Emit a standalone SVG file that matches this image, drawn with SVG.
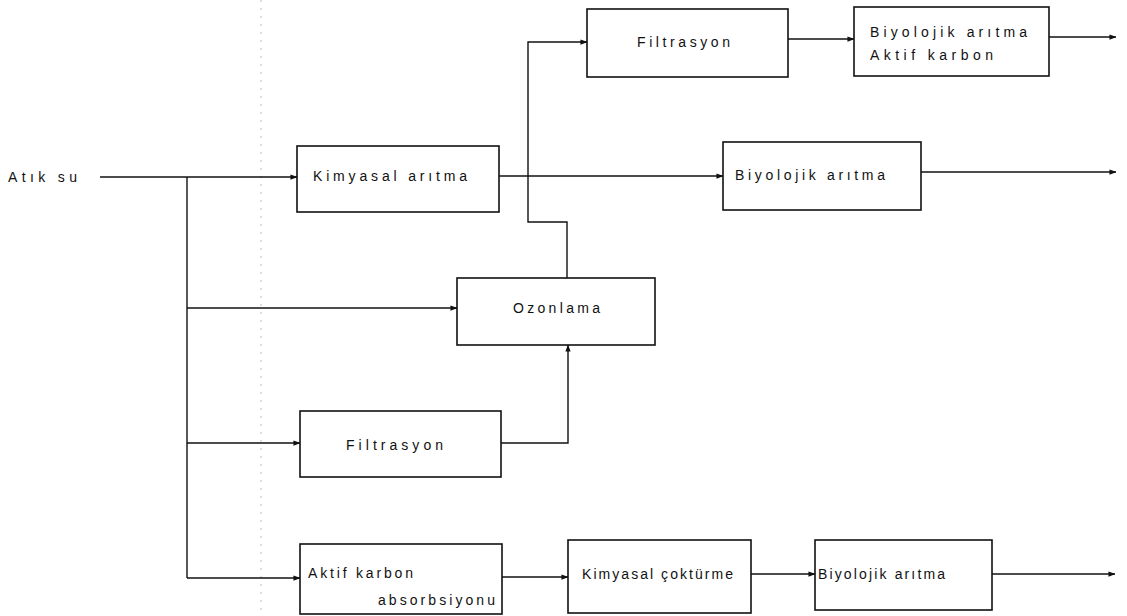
<svg xmlns="http://www.w3.org/2000/svg" width="1127" height="616" viewBox="0 0 1127 616">
<style>
.box{fill:none;stroke:#111;stroke-width:1.6}
.ln{fill:none;stroke:#111;stroke-width:1.4}
.t{font-family:"Liberation Sans",Arial,sans-serif;font-size:14px;fill:#111}
.fold{stroke:#bbb;stroke-width:1;stroke-dasharray:2 6}
</style>
<defs>
<marker id="arr" viewBox="0 0 8 8" refX="7.5" refY="4" markerWidth="7" markerHeight="7" markerUnits="userSpaceOnUse" orient="auto">
<path d="M0,1 L8,4 L0,7 Z" fill="#111"/>
</marker>
</defs>
<rect width="1127" height="616" fill="#fff"/>
<line class="fold" x1="261" y1="0" x2="261" y2="616"/>
<g id="input">
<text class="t" x="8" y="182" textLength="69" lengthAdjust="spacing">Atık su</text>
</g>
<g id="connectors">
<line class="ln" x1="100" y1="177" x2="297" y2="177" marker-end="url(#arr)"/>
<line class="ln" x1="187" y1="177" x2="187" y2="578"/>
<line class="ln" x1="187" y1="308" x2="457" y2="308" marker-end="url(#arr)"/>
<line class="ln" x1="187" y1="443" x2="300" y2="443" marker-end="url(#arr)"/>
<line class="ln" x1="187" y1="578" x2="300" y2="578" marker-end="url(#arr)"/>
<line class="ln" x1="499" y1="176" x2="723" y2="176" marker-end="url(#arr)"/>
<path class="ln" d="M567,278 V222 H528 V42 H587" marker-end="url(#arr)"/>
<path class="ln" d="M501,443 H568 V345" marker-end="url(#arr)"/>
<line class="ln" x1="788" y1="39" x2="854" y2="39" marker-end="url(#arr)"/>
<line class="ln" x1="1049" y1="37" x2="1116" y2="37" marker-end="url(#arr)"/>
<line class="ln" x1="921" y1="172" x2="1116" y2="172" marker-end="url(#arr)"/>
<line class="ln" x1="502" y1="577" x2="568" y2="577" marker-end="url(#arr)"/>
<line class="ln" x1="751" y1="574" x2="815" y2="574" marker-end="url(#arr)"/>
<line class="ln" x1="992" y1="574" x2="1115" y2="574" marker-end="url(#arr)"/>
</g>
<g id="kimyasal-aritma">
<rect class="box" x="297" y="146" width="202" height="66"/>
<text class="t" x="313" y="181" textLength="154" lengthAdjust="spacing">Kimyasal arıtma</text>
</g>
<g id="filtrasyon-1">
<rect class="box" x="587" y="9" width="201" height="68"/>
<text class="t" x="637" y="47" textLength="93" lengthAdjust="spacing">Filtrasyon</text>
</g>
<g id="biyolojik-aktif">
<rect class="box" x="854" y="7" width="195" height="69"/>
<text class="t" x="870" y="37" textLength="157" lengthAdjust="spacing">Biyolojik arıtma</text>
<text class="t" x="870" y="60" textLength="123" lengthAdjust="spacing">Aktif karbon</text>
</g>
<g id="biyolojik-aritma-2">
<rect class="box" x="723" y="142" width="198" height="68"/>
<text class="t" x="735" y="180" textLength="150" lengthAdjust="spacing">Biyolojik arıtma</text>
</g>
<g id="ozonlama">
<rect class="box" x="457" y="278" width="198" height="67"/>
<text class="t" x="513" y="313" textLength="87" lengthAdjust="spacing">Ozonlama</text>
</g>
<g id="filtrasyon-2">
<rect class="box" x="300" y="411" width="201" height="66"/>
<text class="t" x="346" y="450" textLength="97" lengthAdjust="spacing">Filtrasyon</text>
</g>
<g id="aktif-karbon">
<rect class="box" x="300" y="544" width="202" height="70"/>
<text class="t" x="308" y="578" textLength="105" lengthAdjust="spacing">Aktif karbon</text>
<text class="t" x="378" y="605" textLength="117" lengthAdjust="spacing">absorbsiyonu</text>
</g>
<g id="kimyasal-cokturme">
<rect class="box" x="568" y="540" width="183" height="73"/>
<text class="t" x="582" y="579" textLength="151" lengthAdjust="spacing">Kimyasal çoktürme</text>
</g>
<g id="biyolojik-aritma-3">
<rect class="box" x="815" y="540" width="177" height="70"/>
<text class="t" x="818" y="579" textLength="127" lengthAdjust="spacing">Biyolojik arıtma</text>
</g>
</svg>
